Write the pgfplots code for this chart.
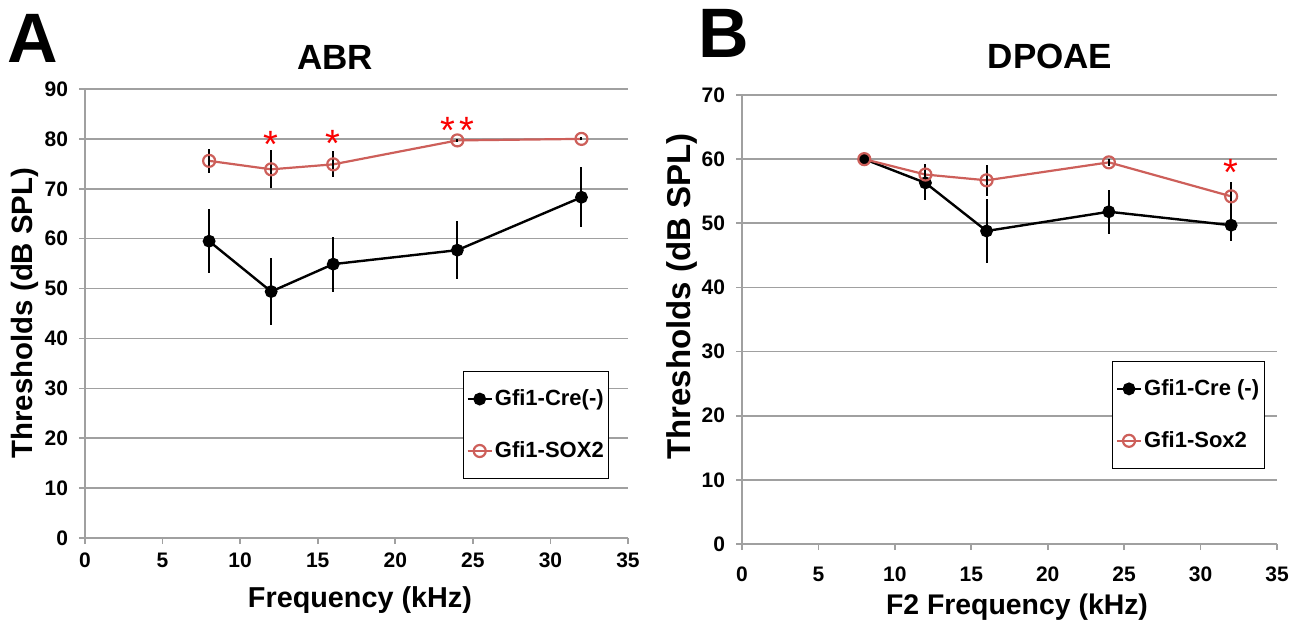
\documentclass[border=0pt]{standalone}
\usepackage{fontspec}
\setmainfont{Liberation Sans}
\usepackage{pgfplots}
\pgfplotsset{compat=1.18}
\definecolor{axgray}{RGB}{160,160,160}
\definecolor{sox}{RGB}{205,95,90}
\definecolor{star}{RGB}{250,0,0}

\pgfplotsset{
  panel/.style={
    scale only axis,
    xmin=0, xmax=35, ymin=0,
    xtick={0,5,...,35},
    axis x line*=bottom, axis y line*=left,
    axis line style={draw=axgray, line width=1pt, -},
    ymajorgrids, grid style={draw=axgray, line width=0.8pt},
    tick style={draw=axgray, line width=0.8pt},
    tick align=outside, major tick length=3pt,
    /pgf/number format/assume math mode=true,
    ticklabel style={font=\bfseries\fontsize{10.5}{11}\selectfont},
    yticklabel style={xshift=-2pt},
    legend cell align=left,
    legend style={draw=black, line width=0.6pt, fill=white,
      font=\bfseries\fontsize{11}{12}\selectfont,
      inner xsep=1.5pt, inner ysep=8pt, row sep=14.5pt,
      nodes={inner sep=1pt}},
    legend image code/.code={
      \draw[mark repeat=2, mark phase=2, ##1] plot coordinates {(0pt,0pt) (6pt,0pt) (12pt,0pt)};},
  },
  cre/.style={black, line width=1.2pt, mark=*, mark size=2.6pt,
    mark options={fill=black, draw=black},
    error bars/.cd, y dir=both, y explicit,
    error bar style={black, line width=1pt}, error mark=none},
  sox2/.style={sox, line width=1.1pt, mark=o, mark size=3pt,
    mark options={line width=1.1pt, draw=sox},
    error bars/.cd, y dir=both, y explicit,
    error bar style={black, line width=1pt}, error mark=none},
}

\begin{document}
\begin{tikzpicture}
\path (0pt,0pt) rectangle (651pt,-312pt);

% panel A
\begin{axis}[panel, at={(42.5pt,-269pt)}, anchor=south west,
  width=271.5pt, height=224.5pt, ymax=90, ytick={0,10,...,90},
  xticklabel style={yshift=-1pt},
  legend style={at={(0.696,0.372)}, anchor=north west}]
  \addplot[cre] coordinates {
    (8,59.5) +- (0,6.4)
    (12,49.4) +- (0,6.7)
    (16,54.9) +- (0,5.5)
    (24,57.7) +- (0,5.8)
    (32,68.3) +- (0,6.0)
  };
  \addlegendentry{Gfi1-Cre(-)}
  \addplot[sox2] coordinates {
    (8,75.6) +- (0,2.4)
    (12,73.9) +- (0,3.8)
    (16,74.9) +- (0,2.6)
    (24,79.7) +- (0,0.3)
    (32,80.0) +- (0,0.3)
  };
  \addlegendentry{Gfi1-SOX2}
  \node[star, font=\fontsize{19}{19}\selectfont, inner sep=0pt, anchor=north] at (axis cs:12,81.6) {*};
  \node[star, font=\fontsize{19}{19}\selectfont, inner sep=0pt, anchor=north] at (axis cs:16,81.8) {*};
  \node[star, font=\fontsize{19}{19}\selectfont, inner sep=0pt, anchor=north] at (axis cs:23.4,84.3) {*};
  \node[star, font=\fontsize{19}{19}\selectfont, inner sep=0pt, anchor=north] at (axis cs:24.6,84.3) {*};
\end{axis}

% panel B
\begin{axis}[panel, at={(371pt,-272pt)}, anchor=south west,
  width=267.5pt, height=224.5pt, ymax=70, ytick={0,10,...,70},
  xticklabel style={yshift=-5pt},
  legend style={at={(0.692,0.408)}, anchor=north west}]
  \addplot[cre] coordinates {
    (8,60.0) +- (0,0.3)
    (12,56.3) +- (0,2.7)
    (16,48.8) +- (0,5.0)
    (24,51.8) +- (0,3.4)
    (32,49.7) +- (0,2.4)
  };
  \addlegendentry{Gfi1-Cre (-)}
  \addplot[sox2] coordinates {
    (8,60.0) +- (0,0.3)
    (12,57.6) +- (0,1.7)
    (16,56.7) +- (0,2.4)
    (24,59.5) +- (0,0.5)
    (32,54.2) +- (0,2.3)
  };
  \addlegendentry{Gfi1-Sox2}
  \node[star, font=\fontsize{19}{19}\selectfont, inner sep=0pt, anchor=north] at (axis cs:32,60) {*};
\end{axis}

% titles, labels
\node[font=\bfseries\fontsize{35}{35}\selectfont] at (16.5pt,-19pt) {A};
\node[font=\bfseries\fontsize{35}{35}\selectfont] at (362pt,-16.5pt) {B};
\node[font=\bfseries\fontsize{17.5}{18}\selectfont] at (167.5pt,-28.75pt) {ABR};
\node[font=\bfseries\fontsize{17.5}{18}\selectfont] at (525pt,-28.25pt) {DPOAE};
\node[font=\bfseries\fontsize{14.7}{15}\selectfont, rotate=90] at (12.5pt,-156.5pt) {Thresholds (dB SPL)};
\node[font=\bfseries\fontsize{16.5}{17}\selectfont, rotate=90] at (341pt,-148.25pt) {Thresholds (dB SPL)};
\node[font=\bfseries\fontsize{14.4}{15}\selectfont] at (180pt,-300pt) {Frequency (kHz)};
\node[font=\bfseries\fontsize{14.2}{15}\selectfont] at (508.5pt,-303.5pt) {F2 Frequency (kHz)};
\end{tikzpicture}
\end{document}
